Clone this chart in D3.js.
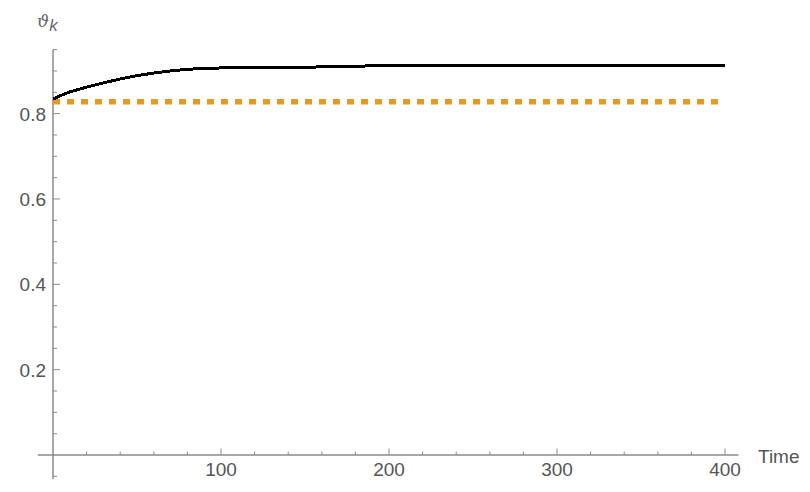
<!DOCTYPE html>
<html><head><meta charset="utf-8">
<script src="https://cdn.jsdelivr.net/npm/d3@7"></script>
<style>body{margin:0;background:#fff}svg{display:block}</style>
</head><body>
<svg id="c" width="810" height="492"></svg>
<script>
const times  = [0, 5, 10, 20, 30, 40, 50, 60, 70, 80, 100, 150, 185, 186, 250, 300, 400];
const values = [0.834, 0.843, 0.851, 0.862, 0.872, 0.881, 0.889, 0.895, 0.900, 0.904, 0.907, 0.909, 0.910, 0.912, 0.912, 0.913, 0.913];
const refLevel = 0.828;
const xMajor = [100, 200, 300, 400];
const yMajor = [0.2, 0.4, 0.6, 0.8];

const svg = d3.select("#c");
const x = d3.scaleLinear().domain([0, 400]).range([53, 725]);
const y = d3.scaleLinear().domain([0, 0.8]).range([455, 113.6]);
const axisCol = "#8a8a8a", labCol = "#555";
const font = "Arial, 'Liberation Sans', sans-serif";

// axes lines
svg.append("line").attr("x1", x(-9)).attr("x2", x(408)).attr("y1", y(0)).attr("y2", y(0))
  .attr("stroke", axisCol).attr("stroke-width", 1.5);
svg.append("line").attr("x1", x(0)).attr("x2", x(0)).attr("y1", y(-0.056)).attr("y2", y(0.95))
  .attr("stroke", axisCol).attr("stroke-width", 1.5);

// x ticks
const xMinor = d3.range(20, 401, 20).filter(v => v % 100 !== 0);
svg.selectAll(".xm").data(xMinor).enter().append("line")
  .attr("x1", d => x(d)).attr("x2", d => x(d)).attr("y1", y(0)).attr("y2", y(0) - 3.5)
  .attr("stroke", axisCol).attr("stroke-width", 1);
svg.selectAll(".xM").data(xMajor).enter().append("line")
  .attr("x1", d => x(d)).attr("x2", d => x(d)).attr("y1", y(0)).attr("y2", y(0) - 6.5)
  .attr("stroke", axisCol).attr("stroke-width", 1);
svg.selectAll(".xl").data(xMajor).enter().append("text")
  .attr("x", d => x(d)).attr("y", 476).attr("text-anchor", "middle")
  .attr("font-family", font).attr("font-size", 19).attr("fill", labCol).text(d => d);

// y ticks
const yMinor = d3.range(-1, 20).map(i => +(i * 0.05).toFixed(2)).filter(v => v !== 0 && Math.abs(v * 5 - Math.round(v * 5)) > 1e-6);
svg.selectAll(".ym").data(yMinor).enter().append("line")
  .attr("x1", x(0)).attr("x2", x(0) + 4).attr("y1", d => y(d)).attr("y2", d => y(d))
  .attr("stroke", axisCol).attr("stroke-width", 1);
svg.selectAll(".yM").data(yMajor).enter().append("line")
  .attr("x1", x(0)).attr("x2", x(0) + 7).attr("y1", d => y(d)).attr("y2", d => y(d))
  .attr("stroke", axisCol).attr("stroke-width", 1);
svg.selectAll(".yl").data(yMajor).enter().append("text")
  .attr("x", 46).attr("y", d => y(d) + 7).attr("text-anchor", "end")
  .attr("font-family", font).attr("font-size", 19).attr("fill", labCol).text(d => d.toFixed(1));

// axis labels
svg.append("text").attr("x", 758).attr("y", 463)
  .attr("font-family", font).attr("font-size", 19).attr("fill", labCol).text("Time");
const yl = svg.append("text").attr("x", 37).attr("y", 27)
  .attr("font-family", "'DejaVu Serif', serif").attr("font-style", "italic").attr("font-size", 17).attr("fill", "#666");
yl.append("tspan").text("ϑ");
yl.append("tspan").attr("dy", 4).attr("font-family", font).attr("font-size", 17).attr("fill", "#667").text("k");

// reference dashed line
svg.append("line").attr("x1", x(0)).attr("x2", x(400)).attr("y1", y(refLevel)).attr("y2", y(refLevel))
  .attr("stroke", "#E19C24").attr("stroke-width", 5.5).attr("stroke-dasharray", "7,7");

// curve
const pts = times.map((t, i) => [t, values[i]]);
svg.append("path").datum(pts)
  .attr("d", d3.line().x(d => x(d[0])).y(d => y(d[1])))
  .attr("fill", "none").attr("stroke", "#000").attr("stroke-width", 3)
  .attr("shape-rendering", "crispEdges");
</script>
</body></html>
